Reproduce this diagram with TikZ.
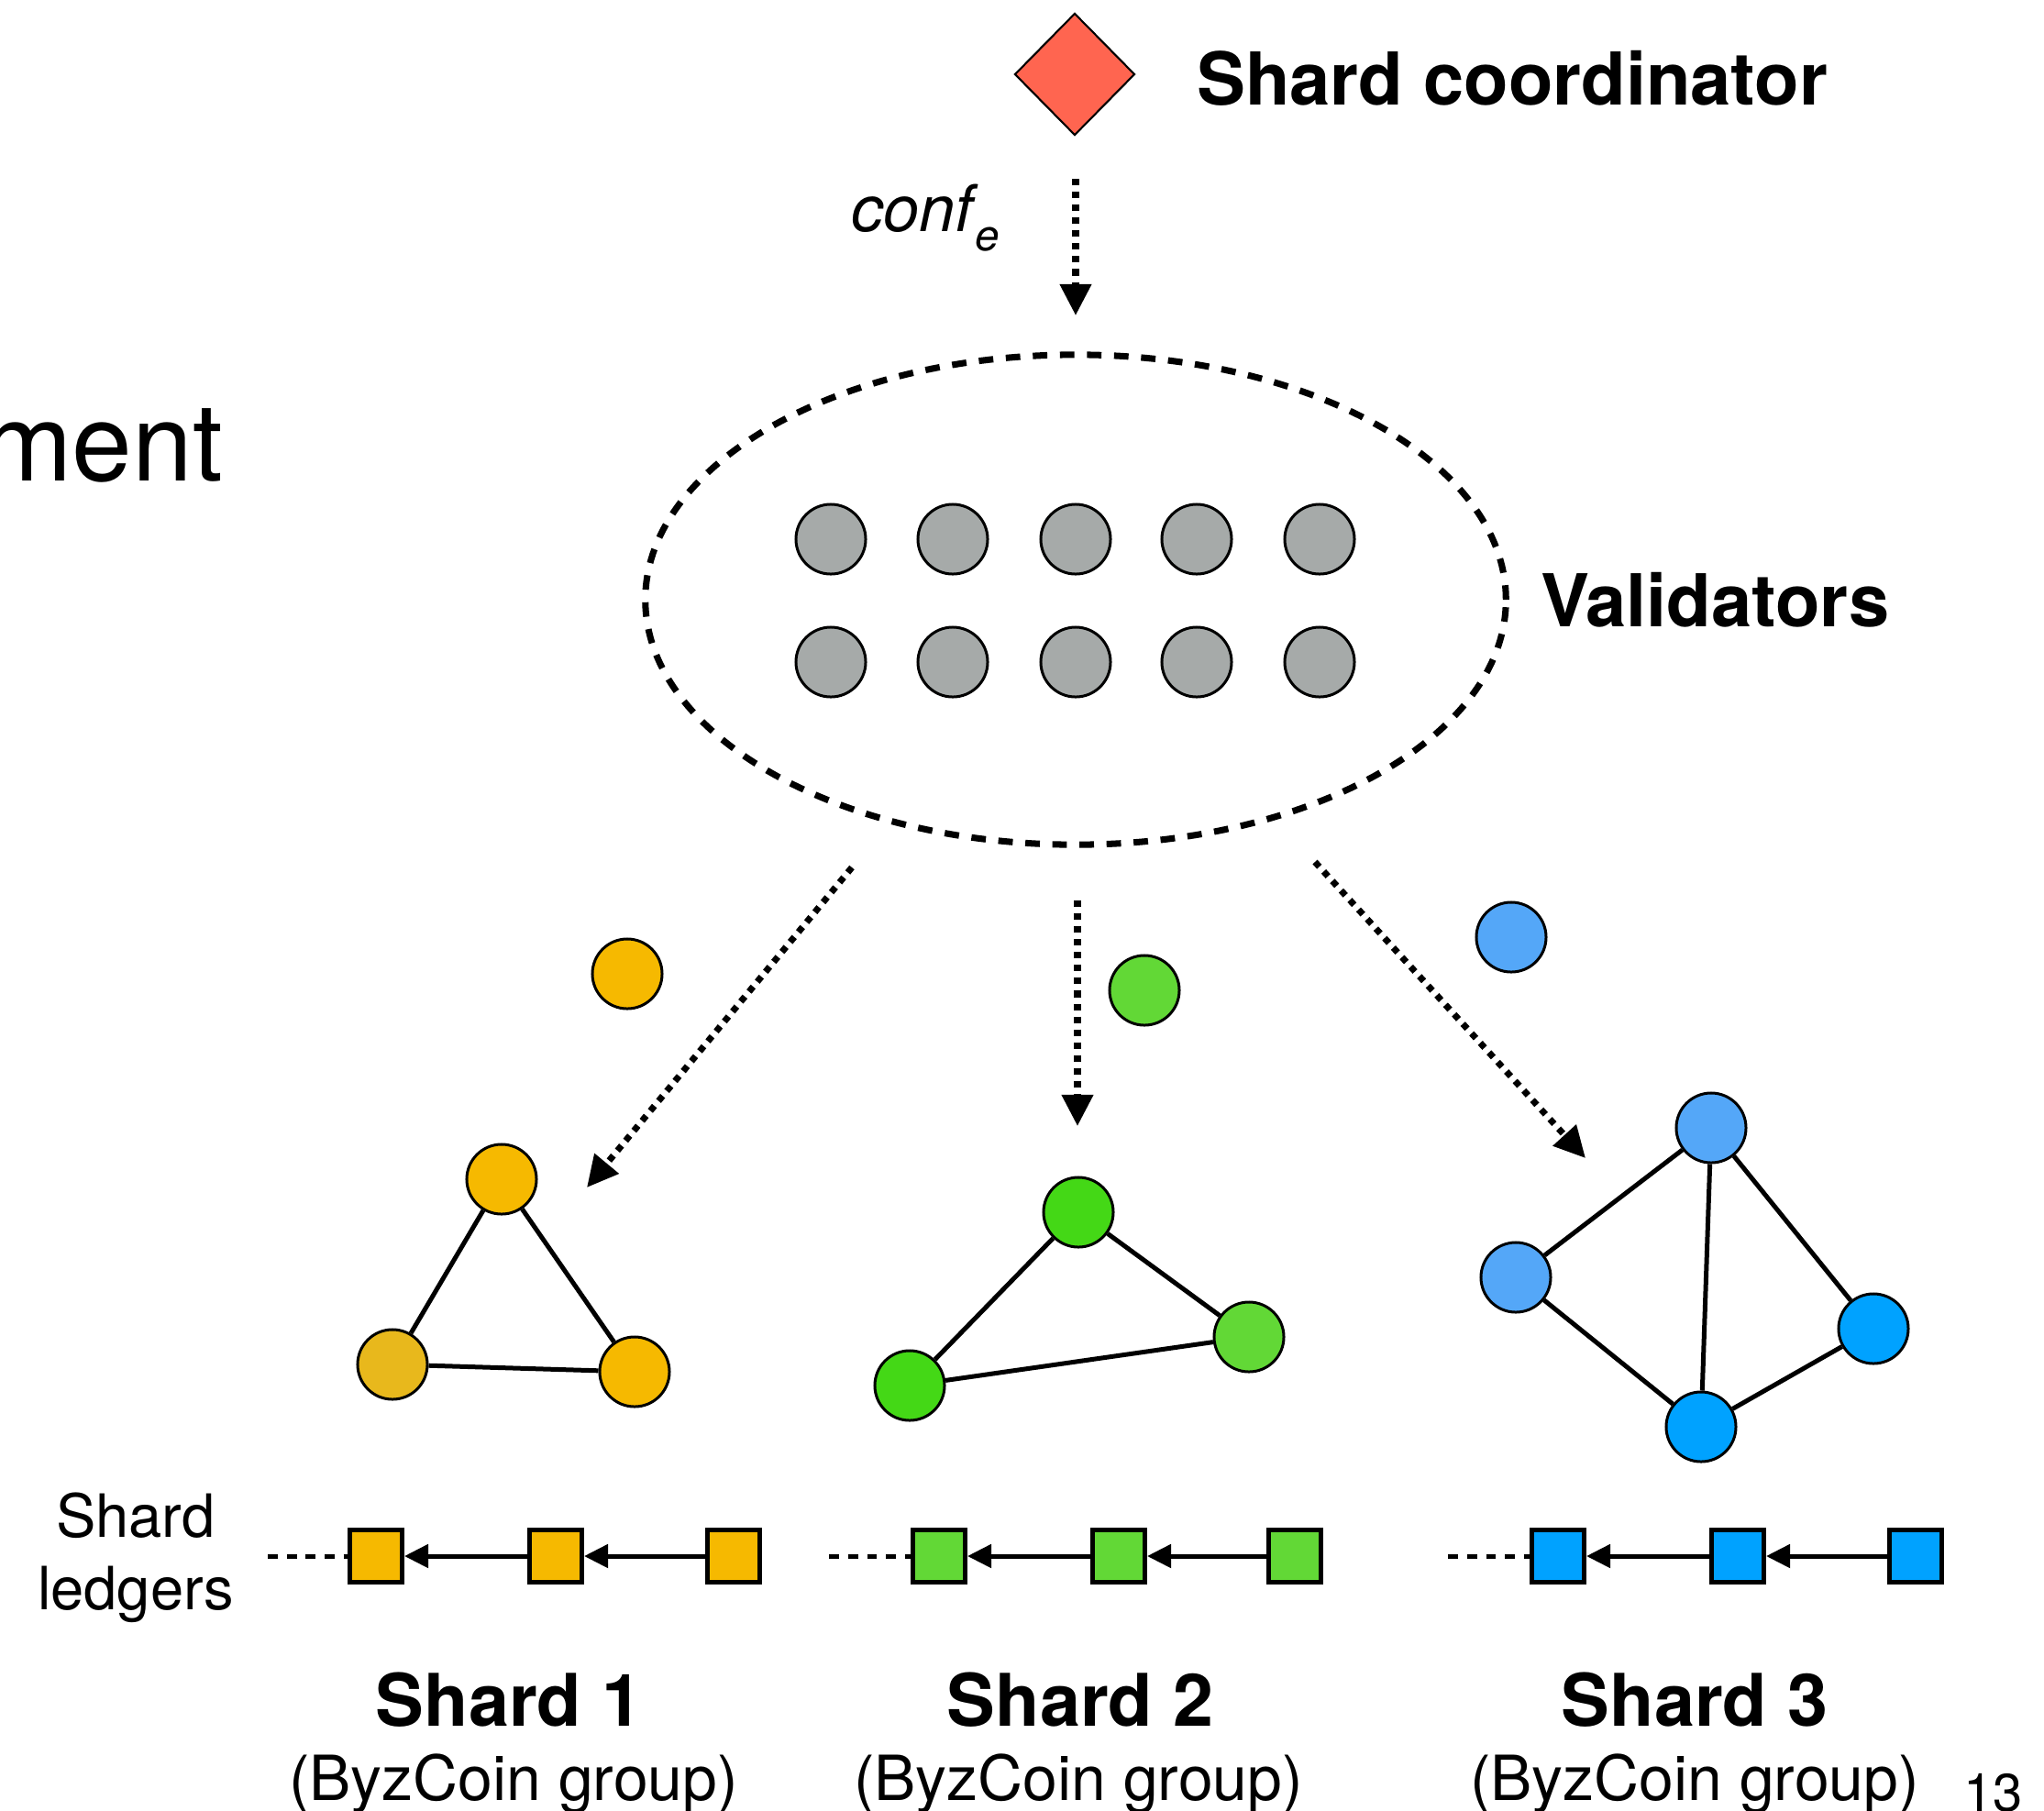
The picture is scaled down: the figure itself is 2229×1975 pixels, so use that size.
\documentclass[tikz,border=0pt]{standalone}
\usepackage{fontspec}
\setmainfont{TeX Gyre Heros}
\usetikzlibrary{arrows.meta,shapes.geometric}

\definecolor{coordred}{HTML}{FF6550}
\definecolor{valgray}{HTML}{A6AAA9}
\definecolor{ambA}{HTML}{F6B900}
\definecolor{ambB}{HTML}{E8B81C}
\definecolor{grnA}{HTML}{44D816}
\definecolor{grnB}{HTML}{62D836}
\definecolor{bluA}{HTML}{54A7F8}
\definecolor{bluB}{HTML}{00A2FF}

\begin{document}
\begin{tikzpicture}[x=0.01cm,y=-0.01cm,
  peer/.style={circle, draw=black, line width=0.85pt, minimum size=0.76cm, inner sep=0pt},
  block/.style={rectangle, draw=black, line width=1.42pt, minimum size=0.57cm, inner sep=0pt},
  link/.style={line width=1.42pt},
  feed/.style={line width=2pt, dash pattern=on 2pt off 2pt,
    -{Triangle[length=0.34cm,width=0.33cm]}},
  chainlink/.style={line width=1.42pt, -{Triangle[length=0.26cm,width=0.25cm]}},
  chaintail/.style={line width=1.42pt, dash pattern=on 3.1pt off 2.8pt},
  txt/.style={inner sep=0pt, outer sep=0pt},
  heading/.style={txt, font=\fontsize{22.6pt}{27pt}\selectfont\bfseries},
  shardname/.style={txt, anchor=base, font=\fontsize{22.5pt}{27pt}\selectfont\bfseries},
  subname/.style={txt, anchor=base, font=\fontsize{19.3pt}{23pt}\selectfont},
  side/.style={txt, anchor=base, font=\fontsize{18.5pt}{22pt}\selectfont}
]
\useasboundingbox (0,0) rectangle (2229,1975);
\clip (0,0) rectangle (2229,1975);

% title fragment at the left edge
\node[txt, anchor=base east, font=\fontsize{33.6pt}{40pt}\selectfont] (title) at (243,524) {ment};

% coordinator
\node[diamond, draw=black, line width=0.6pt, fill=coordred, minimum width=1.31cm,
      minimum height=1.33cm, inner sep=0pt] (coord) at (1172,81) {};
\node[heading, anchor=base west] (coordlbl) at (1305,114) {Shard coordinator};

% configuration arrow
\coordinate (confA) at (1173,195);
\coordinate (confB) at (1173,344);
\draw[feed] (confA) -- (confB);
\node[txt, anchor=base west, font=\fontsize{20pt}{24pt}\selectfont\itshape] (conflbl) at (928,252)
  {conf\kern0.04em\raisebox{-0.3em}{\fontsize{13.5pt}{16pt}\selectfont e}};

% validator pool
\node[ellipse, draw=black, line width=2pt, dash pattern=on 4.5pt off 3.9pt,
      minimum width=9.38cm, minimum height=5.34cm, inner sep=0pt] (pool) at (1173,654) {};
\foreach \i/\x in {1/906,2/1039,3/1173,4/1305,5/1439}{
  \node[peer, fill=valgray] (va\i) at (\x,588) {};
  \node[peer, fill=valgray] (vb\i) at (\x,722) {};
}
\node[heading, anchor=base west] (vallbl) at (1680,683) {Validators};

% assignment arrows
\coordinate (s1a) at (929,946);
\coordinate (s1b) at (640,1295);
\coordinate (s2a) at (1175,982);
\coordinate (s2b) at (1175,1228);
\coordinate (s3a) at (1434,940);
\coordinate (s3b) at (1729,1263);
\draw[feed] (s1a) -- (s1b);
\draw[feed] (s2a) -- (s2b);
\draw[feed] (s3a) -- (s3b);

% unassigned validators
\node[peer, fill=ambA] (free1) at (684,1062) {};
\node[peer, fill=grnB] (free2) at (1248,1080) {};
\node[peer, fill=bluA] (free3) at (1648,1022) {};

% shard 1 group
\node[peer, fill=ambA] (p1t) at (547,1286) {};
\node[peer, fill=ambB] (p1l) at (428,1488) {};
\node[peer, fill=ambA] (p1r) at (692,1496) {};
\draw[link] (p1t) -- (p1l);
\draw[link] (p1t) -- (p1r);
\draw[link] (p1l) -- (p1r);

% shard 2 group
\node[peer, fill=grnA] (p2t) at (1176,1322) {};
\node[peer, fill=grnA] (p2l) at (992,1511) {};
\node[peer, fill=grnB] (p2r) at (1362,1458) {};
\draw[link] (p2t) -- (p2l);
\draw[link] (p2t) -- (p2r);
\draw[link] (p2l) -- (p2r);

% shard 3 group
\node[peer, fill=bluA] (p3t) at (1866,1230) {};
\node[peer, fill=bluA] (p3l) at (1653,1393) {};
\node[peer, fill=bluB] (p3r) at (2043,1449) {};
\node[peer, fill=bluB] (p3b) at (1855,1556) {};
\draw[link] (p3t) -- (p3l);
\draw[link] (p3t) -- (p3r);
\draw[link] (p3t) -- (p3b);
\draw[link] (p3l) -- (p3b);
\draw[link] (p3r) -- (p3b);

% shard ledgers
\node[side] (ledA) at (148,1676) {Shard};
\node[side] (ledB) at (148,1755) {ledgers};

\foreach \s/\c/\xa/\xb/\xc/\xt in {1/ambA/410/606/800/292, 2/grnB/1024/1220/1412/904, 3/bluB/1699/1895/2089/1579}{
  \node[block, fill=\c] (b\s a) at (\xa,1697) {};
  \node[block, fill=\c] (b\s b) at (\xb,1697) {};
  \node[block, fill=\c] (b\s c) at (\xc,1697) {};
  \coordinate (t\s) at (\xt,1697);
  \draw[chaintail] (t\s) -- (b\s a.west);
  \draw[chainlink] (b\s b.west) -- (b\s a.east);
  \draw[chainlink] (b\s c.west) -- (b\s b.east);
}

% shard captions
\node[shardname] (n1) at (555,1882) {Shard 1};
\node[shardname] (n2) at (1178,1882) {Shard 2};
\node[shardname] (n3) at (1848,1882) {Shard 3};
\node[subname] (g1) at (560,1963) {(ByzCoin group)};
\node[subname] (g2) at (1176,1963) {(ByzCoin group)};
\node[subname] (g3) at (1848,1963) {(ByzCoin group)};

% slide number
\node[txt, anchor=base west, font=\fontsize{16.5pt}{20pt}\selectfont] (pgno) at (2141,1975) {13};
\end{tikzpicture}
\end{document}
